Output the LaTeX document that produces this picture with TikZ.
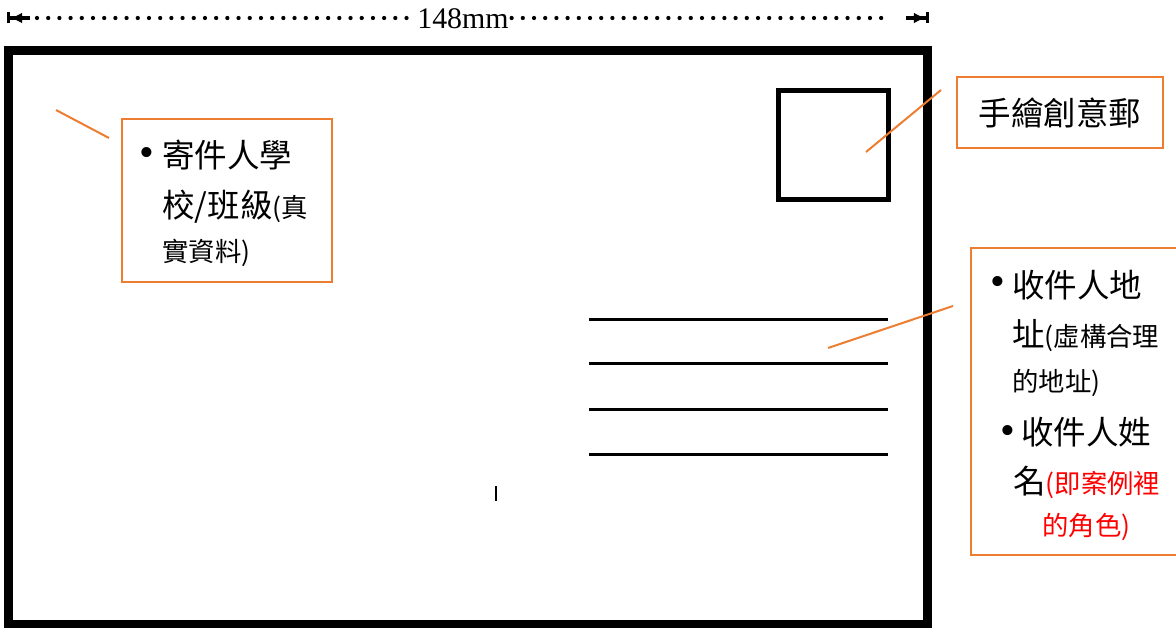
\documentclass[tikz,border=0pt]{standalone}
\usepackage{fontspec}
\setmainfont{Liberation Serif}
\newfontfamily\tcfont{Noto Sans CJK TC}
\usetikzlibrary{arrows.meta}
\definecolor{OfficeOrange}{RGB}{237,125,49}
\definecolor{NoteRed}{RGB}{255,0,0}
\newcommand\lgtxt{\fontsize{18.5}{22}\selectfont}
\newcommand\smtxt{\fontsize{15}{18}\selectfont}
\tikzset{
  card/.style={draw=black, line width=0.18cm},
  stampsq/.style={draw=black, line width=0.1cm},
  addrline/.style={draw=black, line width=0.06cm},
  callout/.style={draw=OfficeOrange, line width=0.05cm, inner sep=0pt},
  leader/.style={draw=OfficeOrange, line width=0.04cm},
  dimtip/.style={draw=black, line width=0.065cm},
  dimdots/.style={line width=0.085cm, line cap=round, dash pattern=on 0pt off 0.224cm},
  dimlabel/.style={font=\fontsize{17}{20}\selectfont, inner sep=1.5pt},
  zhtxt/.style={anchor=west, inner sep=0pt, font=\tcfont\lgtxt},
  bul/.style={inner sep=0pt, font=\fontsize{24}{26}\selectfont},
}

\begin{document}
\begin{tikzpicture}[x=0.02cm, y=-0.02cm]
  \clip (0,0) rectangle (1176,628);
  % width of the card
  \coordinate (dimL) at (7,18);
  \coordinate (dimLa) at (30,18);
  \coordinate (dimRa) at (906,18);
  \coordinate (dimR) at (929,18);
  \coordinate (dotL) at (37,18);
  \coordinate (dotR) at (890,18);
  \node[dimlabel] (dimtxt) at (463,19) {148mm};
  \draw[dimtip, {Bar[width=0.22cm]Latex[length=0.24cm,width=0.22cm]}-] (dimL) -- (dimLa);
  \draw[dimtip, -{Latex[length=0.24cm,width=0.22cm]Bar[width=0.22cm]}] (dimRa) -- (dimR);
  \draw[dimdots] (dotL) -- (dotL -| dimtxt.west);
  \draw[dimdots] (dotR -| dimtxt.east) -- (dotR);

  % the card
  \draw[card] (8.5,50.5) rectangle (927.5,624.5);
  \draw[stampsq] (778.5,90.5) rectangle (888,200);
  \foreach \y in {319,363,409,454}
    \draw[addrline] (589,\y) -- (888,\y);
  \draw[line width=0.05cm] (496,486) -- (496,501);

  % sender
  \node[callout, minimum width=4.2cm, minimum height=3.26cm] (sender) at (227,200.5) {};
  \coordinate (sendTip) at (56,110);
  \coordinate (sendEnd) at (109,138);
  \draw[leader] (sendTip) -- (sendEnd);
  \node[bul] (sendB) at (147,157) {•};
  \node[zhtxt] (send1) at (162,155) {寄件人學};
  \node[zhtxt] (send2) at (162,207) {校/班級{\smtxt(真}};
  \node[zhtxt, font=\tcfont\smtxt] (send3) at (162,253) {實資料)};

  % stamp
  \node[callout, minimum width=4.12cm, minimum height=1.42cm, font=\tcfont\lgtxt] (stamplbl) at (1060,112.5) {手繪創意郵};
  \coordinate (stampTip) at (866,152);
  \coordinate (stampEnd) at (941,90);
  \draw[leader] (stampTip) -- (stampEnd);

  % receiver
  \node[callout, minimum width=4.38cm, minimum height=6.14cm] (receiver) at (1080.5,401.5) {};
  \coordinate (addrTip) at (828,348);
  \coordinate (addrEnd) at (953,306);
  \draw[leader] (addrTip) -- (addrEnd);
  \node[bul] (rcvB1) at (998,286) {•};
  \node[zhtxt] (rcv1) at (1012,285) {收件人地};
  \node[zhtxt] (rcv2) at (1012,336) {址{\smtxt(虛構合理}};
  \node[zhtxt, font=\tcfont\smtxt] (rcv3) at (1012,383) {的地址)};
  \node[bul] (rcvB2) at (1008,435) {•};
  \node[zhtxt] (rcv4) at (1021,432) {收件人姓};
  \node[zhtxt] (rcv5) at (1013,482) {名{\smtxt\color{NoteRed}(即案例裡}};
  \node[zhtxt, font=\tcfont\smtxt, text=NoteRed] (rcv6) at (1042,527) {的角色)};
\end{tikzpicture}
\end{document}
